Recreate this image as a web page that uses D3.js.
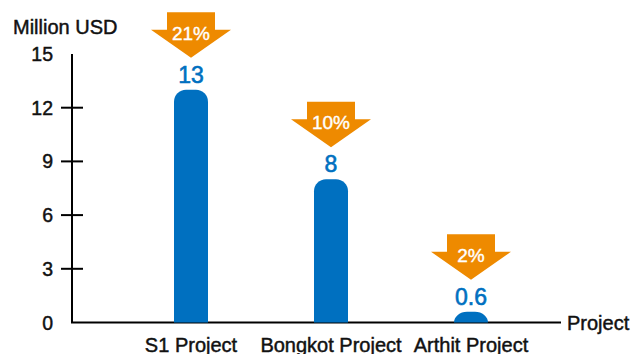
<!DOCTYPE html>
<html>
<head>
<meta charset="utf-8">
<script src="https://cdn.jsdelivr.net/npm/d3@7"></script>
<style>
  html, body { margin: 0; padding: 0; background: #fff; }
  svg { display: block; font-family: "Liberation Sans", Arial, Helvetica, sans-serif; }
</style>
</head>
<body>
<svg id="chart" width="642" height="354"></svg>
<script>
const categories = ["S1 Project", "Bongkot Project", "Arthit Project"];
const values = [13, 8, 0.6];
const valueLabels = ["13", "8", "0.6"];
const shares = ["21%", "10%", "2%"];
const yTicks = [0, 3, 6, 9, 12, 15];

const blue = "#0070C0";
const orange = "#EE8A00";
const ink = "#111";

const svg = d3.select("#chart");
const x0 = 72, x1 = 561, yTop = 54, yBottom = 322.5;

const y = d3.scaleLinear().domain([0, 15]).range([yBottom, yTop]);
const x = d3.scalePoint().domain(categories).range([191, 471]);
const barW = 34;

// Y axis line
svg.append("line").attr("x1", x0).attr("x2", x0).attr("y1", y(15)).attr("y2", yBottom)
  .attr("stroke", "#000").attr("stroke-width", 2);
// X axis line
svg.append("line").attr("x1", x0 - 1).attr("x2", x1).attr("y1", yBottom).attr("y2", yBottom)
  .attr("stroke", "#000").attr("stroke-width", 2);

// ticks (crossing the axis)
svg.selectAll(".tick").data(yTicks.filter(t => t > 0 && t < 15)).enter().append("line")
  .attr("x1", x0 - 11).attr("x2", x0 + 11)
  .attr("y1", d => y(d)).attr("y2", d => y(d))
  .attr("stroke", "#000").attr("stroke-width", 2);

function boldish(sel, color, w) {
  return sel.attr("fill", color).attr("stroke", color).attr("stroke-width", w).attr("paint-order", "stroke");
}

// tick labels
boldish(svg.selectAll(".tl").data(yTicks).enter().append("text")
  .attr("x", 53).attr("y", d => y(d)).attr("dy", "0.36em")
  .attr("text-anchor", "end").attr("font-size", 19.5)
  .text(d => d), ink, 0.45);

// axis titles
boldish(svg.append("text").attr("x", 13).attr("y", 34).attr("font-size", 20).text("Million USD"), ink, 0.45);
boldish(svg.append("text").attr("x", 567).attr("y", 329.5).attr("font-size", 20).text("Project"), ink, 0.45);

// bars with rounded top
function barPath(cx, v) {
  const top = y(v), bot = yBottom, h = bot - top;
  const l = cx - barW / 2, r = cx + barW / 2;
  const ry = Math.min(12, h), rx = h < 12 ? 13 : 12;
  return `M${l},${bot} L${l},${top + ry} A${rx},${ry} 0 0 1 ${l + rx},${top} L${r - rx},${top} A${rx},${ry} 0 0 1 ${r},${top + ry} L${r},${bot} Z`;
}
svg.selectAll(".bar").data(categories).enter().append("path")
  .attr("d", (d, i) => barPath(x(d), values[i]))
  .attr("fill", blue);

// value labels
boldish(svg.selectAll(".vl").data(categories).enter().append("text")
  .attr("x", d => x(d)).attr("y", (d, i) => y(values[i]) - 7)
  .attr("text-anchor", "middle").attr("font-size", 23)
  .text((d, i) => valueLabels[i]), blue, 0.6);

// arrows
function arrowPath(cx, tip) {
  const rt = tip - 45.5, hb = tip - 28;
  return `M${cx - 24},${rt} L${cx + 24},${rt} L${cx + 24},${hb} L${cx + 40},${hb} L${cx},${tip} L${cx - 40},${hb} L${cx - 24},${hb} Z`;
}
svg.selectAll(".arrow").data(categories).enter().append("path")
  .attr("d", (d, i) => arrowPath(x(d), y(values[i]) - 32))
  .attr("fill", orange);
boldish(svg.selectAll(".pl").data(categories).enter().append("text")
  .attr("x", d => x(d)).attr("y", (d, i) => y(values[i]) - 32 - 18)
  .attr("text-anchor", "middle").attr("font-size", 19)
  .text((d, i) => shares[i]), "#fff", 0.4);

// category labels
boldish(svg.selectAll(".cl").data(categories).enter().append("text")
  .attr("x", d => x(d)).attr("y", 351.5)
  .attr("text-anchor", "middle").attr("font-size", 20)
  .text(d => d), ink, 0.45);
</script>
</body>
</html>
